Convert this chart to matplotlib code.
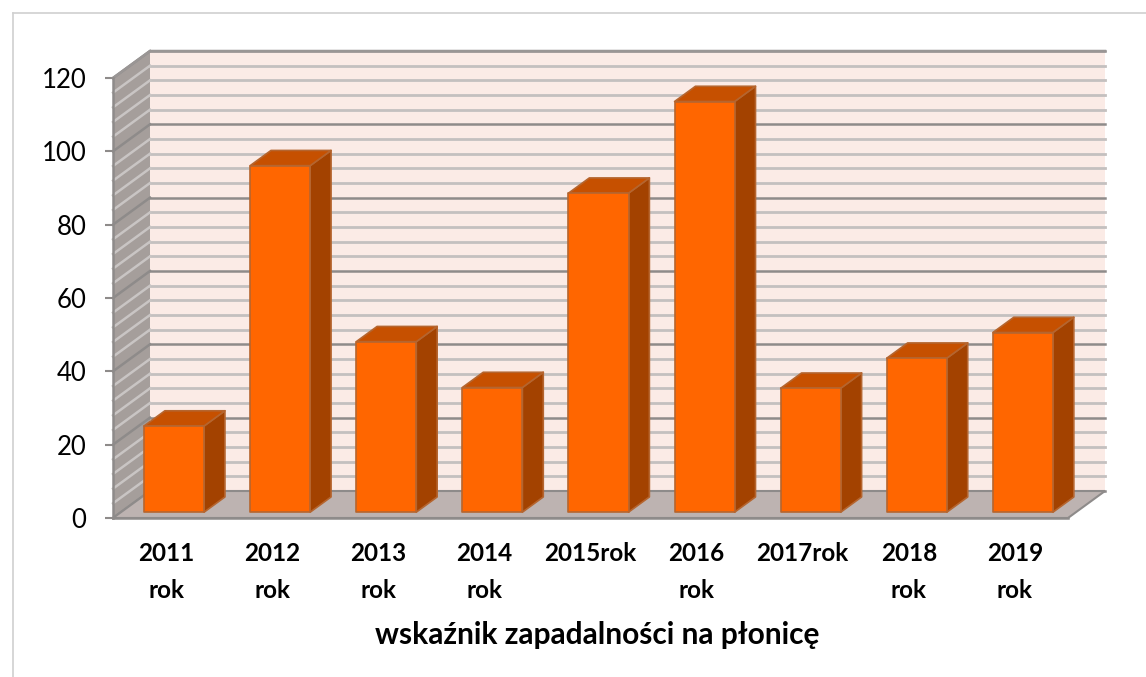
import matplotlib
matplotlib.use("Agg")
import matplotlib.pyplot as plt
from matplotlib.patches import Polygon
from matplotlib.lines import Line2D

# data
categories = ["2011\nrok", "2012\nrok", "2013\nrok", "2014\nrok", "2015rok",
              "2016\nrok", "2017rok", "2018\nrok", "2019\nrok"]
values = [23.5, 94.5, 46.5, 34, 87, 112, 33.8, 42, 49]
y_ticks = [0, 20, 40, 60, 80, 100, 120]
x_title = "wskaźnik zapadalności na płonicę"

plt.rcParams['font.family'] = ['Lato', 'DejaVu Sans']

W, H = 1146, 677
fig = plt.figure(figsize=(W / 100, H / 100), dpi=100)
fig.patch.set_facecolor("white")

# front plane of the plot area in pixels
left_px, right_px, bottom_px, top_px = 113, 1068, 518, 78
ax = fig.add_axes([left_px / W, (H - bottom_px) / H,
                   (right_px - left_px) / W, (bottom_px - top_px) / H])
n = len(categories)
ax.set_xlim(0, n)
ax.set_ylim(0, 120)
ax.set_facecolor("none")

# oblique depth offset in data units
DX = 37 / (right_px - left_px) * n
DY = 27 / (bottom_px - top_px) * 120

wall_c = "#fbebe6"
side_c = "#a59e9b"
floor_c = "#bdb3b1"
minor_c = "#c4c0bf"
major_c = "#8e8b8a"

# back wall
ax.add_patch(Polygon([(DX, DY), (n + DX, DY), (n + DX, 120 + DY), (DX, 120 + DY)],
                     closed=True, facecolor=wall_c, edgecolor="none", clip_on=False, zorder=1))
# side wall
ax.add_patch(Polygon([(0, 0), (DX, DY), (DX, 120 + DY), (0, 120)],
                     closed=True, facecolor=side_c, edgecolor="none", clip_on=False, zorder=1))

# grid lines
for v in range(0, 121, 4):
    major = v % 20 == 0
    c = major_c if major else minor_c
    ax.add_line(Line2D([DX, n + DX], [v + DY, v + DY], color=c, lw=2 if not major else 1.8,
                       clip_on=False, zorder=2))
    ax.add_line(Line2D([0, DX], [v, v + DY], color=major_c if major else "#c9c5c4",
                       lw=1.8, clip_on=False, zorder=2))

# top edges of walls
ax.add_line(Line2D([0, DX, n + DX], [120, 120 + DY, 120 + DY], color="#9a9695", lw=1.8,
                   clip_on=False, zorder=3))

# floor
ax.add_patch(Polygon([(0, 0), (n, 0), (n + DX, DY), (DX, DY)], closed=True,
                     facecolor=floor_c, edgecolor="#8e8b8a", lw=1.5, clip_on=False, zorder=3))

# bars
front_c, top_c, side_bar_c, edge_c = "#ff6600", "#c65000", "#a34200", "#b5652f"
half_w = 0.283
d0, d1 = 0.216, 0.78
for i, v in enumerate(values):
    cx = i + 0.5
    x0 = cx - half_w + d0 * DX
    x1 = cx + half_w + d0 * DX
    y0 = d0 * DY
    ddx = (d1 - d0) * DX
    ddy = (d1 - d0) * DY
    side = [(x1, y0), (x1 + ddx, y0 + ddy), (x1 + ddx, y0 + ddy + v), (x1, y0 + v)]
    top = [(x0, y0 + v), (x1, y0 + v), (x1 + ddx, y0 + v + ddy), (x0 + ddx, y0 + v + ddy)]
    front = [(x0, y0), (x1, y0), (x1, y0 + v), (x0, y0 + v)]
    for poly, fc in ((side, side_bar_c), (top, top_c), (front, front_c)):
        ax.add_patch(Polygon(poly, closed=True, facecolor=fc, edgecolor=edge_c, lw=1.2,
                             joinstyle="round", clip_on=False, zorder=5))

# axes styling
for s in ("top", "right"):
    ax.spines[s].set_visible(False)
for s in ("left", "bottom"):
    ax.spines[s].set_color("#8e8b8a")
    ax.spines[s].set_linewidth(1.8)
    ax.spines[s].set_zorder(4)

ax.set_yticks(y_ticks)
ax.set_yticklabels([str(t) for t in y_ticks], fontsize=18.5)
ax.tick_params(axis="y", length=6, width=1.5, color="#8e8b8a", pad=13)
ax.set_xticks([i + 0.5 for i in range(n)])
ax.set_xticklabels(categories, fontsize=17.5, fontweight="bold", linespacing=1.75)
ax.tick_params(axis="x", length=0, pad=17)
ax.set_xlabel(x_title, fontsize=21.5, fontweight="bold", labelpad=16)
ax.xaxis.set_label_coords(0.507, -0.235)

# outer chart border
fig.add_artist(Line2D([13 / W, 13 / W], [0, (H - 13) / H], color="#d0d0d0", lw=1.2))
fig.add_artist(Line2D([13 / W, 1], [(H - 13) / H, (H - 13) / H], color="#d0d0d0", lw=1.2))

fig.savefig("out.png", dpi=100)
